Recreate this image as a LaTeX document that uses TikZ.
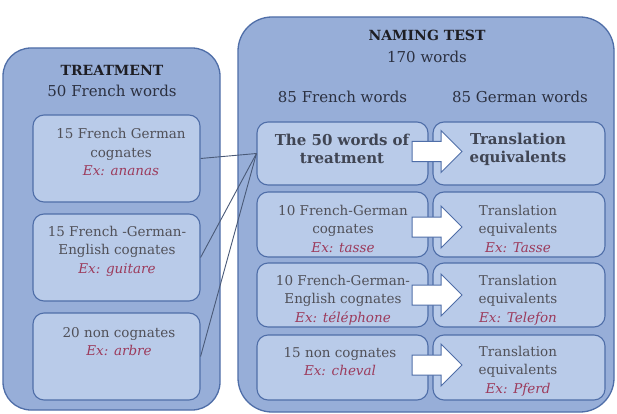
\documentclass[tikz,border=0pt]{standalone}
\usepackage{fontspec}
\setmainfont{DejaVu Serif}
\definecolor{outerfill}{HTML}{97AED8}
\definecolor{innerfill}{HTML}{B9CBE9}
\definecolor{edgeblue}{HTML}{4F6EA8}
\definecolor{bodytxt}{HTML}{505058}
\definecolor{darktxt}{HTML}{1E1E24}
\definecolor{subtxt}{HTML}{2B3040}
\definecolor{extxt}{HTML}{9C3B5C}
\definecolor{conncol}{HTML}{4A5A78}
\newcommand\extext[1]{{\color{extxt}\itshape #1}}
\begin{document}
\begin{tikzpicture}[x=1pt,y=-1pt,
  outerbox/.style={draw=edgeblue, line width=1.3pt, fill=outerfill, rounded corners=28pt, inner sep=0pt},
  innerbox/.style={draw=edgeblue, line width=1.1pt, fill=innerfill, rounded corners=11pt, inner sep=0pt},
  ttl/.style={font=\fontsize{14}{18}\selectfont\bfseries, text=darktxt, align=center, inner sep=0pt},
  sub/.style={font=\fontsize{15}{18}\selectfont, text=subtxt, align=center, inner sep=0pt},
  body/.style={font=\fontsize{13.5}{18.5}\selectfont, text=bodytxt, align=center, inner sep=0pt},
  bigbody/.style={font=\fontsize{15}{18}\selectfont\bfseries, text=subtxt!90, align=center, inner sep=0pt},
  conn/.style={draw=conncol, line width=0.9pt},
  blockarrow/.style={draw=edgeblue, line width=1pt, fill=white}
]
\useasboundingbox (0,0) rectangle (617,414);
\fill[white] (0,0) rectangle (617,414);

% outer boxes
\node[outerbox, minimum width=217pt, minimum height=362pt] (treat) at (111.5,229) {};
\node[outerbox, rounded corners=34pt, minimum width=376pt, minimum height=395pt] (naming) at (426,214.5) {};

% treatment inner boxes
\node[innerbox, minimum width=167pt, minimum height=87pt] (b1) at (116.5,158.5) {};
\node[innerbox, minimum width=167pt, minimum height=87pt] (b2) at (116.5,257.5) {};
\node[innerbox, minimum width=167pt, minimum height=87pt] (b3) at (116.5,356.5) {};

% naming test inner boxes
\node[innerbox, minimum width=171pt, minimum height=63pt] (r1l) at (342.5,153.5) {};
\node[innerbox, minimum width=172pt, minimum height=63pt] (r1r) at (519,153.5) {};
\node[innerbox, minimum width=171pt, minimum height=65pt] (r2l) at (342.5,224.5) {};
\node[innerbox, minimum width=172pt, minimum height=65pt] (r2r) at (519,224.5) {};
\node[innerbox, minimum width=171pt, minimum height=64pt] (r3l) at (342.5,295) {};
\node[innerbox, minimum width=172pt, minimum height=64pt] (r3r) at (519,295) {};
\node[innerbox, minimum width=171pt, minimum height=65pt] (r4l) at (342.5,367.5) {};
\node[innerbox, minimum width=172pt, minimum height=65pt] (r4r) at (519,367.5) {};

% block arrows
\foreach \c in {151.5,227,295,365}{
  \draw[blockarrow] (412,\c-10) -- (441,\c-10) -- (441,\c-21) -- (462,\c)
    -- (441,\c+21) -- (441,\c+10) -- (412,\c+10) -- cycle;
}

% connectors
\draw[conn] (b1.east) -- (r1l.west);
\draw[conn] (b2.east) -- (r1l.west);
\draw[conn] (b3.east) -- (r1l.west);

% treatment texts
\node[ttl] (tt) at (112,70) {TREATMENT};
\node[sub] (ts) at (112,91) {50 French words};
\node[body] (b1t) at (121,152) {15 French German\\cognates\\\extext{Ex: ananas}};
\node[body] (b2t) at (117,251) {15 French -German-\\English cognates\\\extext{Ex: guitare}};
\node[body] (b3t) at (119,341.5) {20 non cognates\\\extext{Ex: arbre}};

% naming texts
\node[ttl] (nt) at (427,35) {NAMING TEST};
\node[sub] (ns) at (427,57) {170 words};
\node[sub] (fr) at (342.5,97) {85 French words};
\node[sub] (de) at (520,97) {85 German words};

\node[bigbody] (r1lt) at (342,149) {The 50 words of\\treatment};
\node[bigbody] (r1rt) at (518,149) {Translation\\equivalents};
\node[body] (r2lt) at (343,228.5) {10 French-German\\cognates\\\extext{Ex: tasse}};
\node[body] (r2rt) at (518,228.5) {Translation\\equivalents\\\extext{Ex: Tasse}};
\node[body] (r3lt) at (343,300) {10 French-German-\\English cognates\\\extext{Ex: téléphone}};
\node[body] (r3rt) at (518,300) {Translation\\equivalents\\\extext{Ex: Telefon}};
\node[body] (r4lt) at (340,361.5) {15 non cognates\\\extext{Ex: cheval}};
\node[body] (r4rt) at (518,371) {Translation\\equivalents\\\extext{Ex: Pferd}};
\end{tikzpicture}
\end{document}
